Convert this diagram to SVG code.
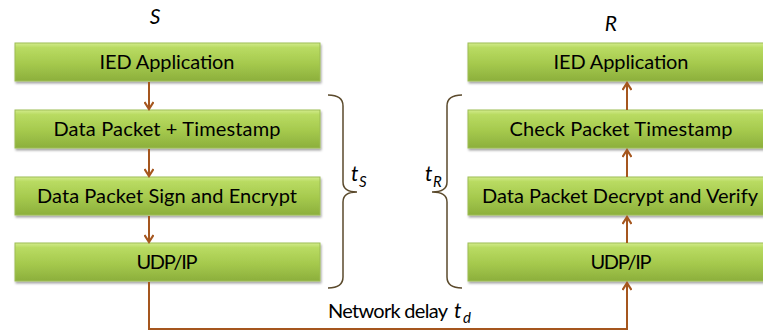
<svg xmlns="http://www.w3.org/2000/svg" width="763" height="333" viewBox="0 0 763 333">
<defs>
<linearGradient id="g" x1="0" y1="0" x2="0" y2="1">
<stop offset="0" stop-color="#d3eb8c"/>
<stop offset="0.12" stop-color="#b9db62"/>
<stop offset="0.55" stop-color="#a5c94d"/>
<stop offset="1" stop-color="#8caf3c"/>
</linearGradient>
<filter id="sh" x="-5%" y="-20%" width="110%" height="160%">
<feDropShadow dx="1" dy="2" stdDeviation="1.3" flood-color="#000" flood-opacity="0.35"/>
</filter>
<marker id="ar" markerWidth="10" markerHeight="10" refX="8" refY="5" orient="auto" markerUnits="userSpaceOnUse">
<path d="M1,0.5 L8,5 L1,9.5" fill="none" stroke="#a5561e" stroke-width="2.2"/>
</marker>
</defs>
<style>
.box{fill:url(#g);stroke:#9dbd55;stroke-width:1;filter:url(#sh)}
.lbl{font-family:Lato,"Open Sans",sans-serif;font-size:20px;fill:#000;text-anchor:middle}
.it{font-family:Lato,"Open Sans",sans-serif;font-style:italic;fill:#000}
.con{fill:none;stroke:#a5561e;stroke-width:2;marker-end:url(#ar)}
.brace{fill:none;stroke:#5b4a2c;stroke-width:1.5}
</style>
<rect width="763" height="333" fill="#fff"/>
<text class="it" x="155" y="24" font-size="21" text-anchor="middle">S</text>
<text class="it" x="611" y="31" font-size="21" text-anchor="middle">R</text>
<g id="s1"><rect class="box" x="15" y="43" width="305" height="38"/><text class="lbl" x="167" y="69" textLength="135">IED Application</text></g>
<g id="s2"><rect class="box" x="15" y="110" width="305" height="38"/><text class="lbl" x="167" y="136" textLength="227">Data Packet + Timestamp</text></g>
<g id="s3"><rect class="box" x="15" y="177" width="305" height="38"/><text class="lbl" x="167" y="203" textLength="260">Data Packet Sign and Encrypt</text></g>
<g id="s4"><rect class="box" x="15" y="243" width="305" height="38"/><text class="lbl" x="167" y="269" textLength="61">UDP/IP</text></g>
<g id="r1"><rect class="box" x="468" y="43" width="306" height="38"/><text class="lbl" x="621" y="69" textLength="135">IED Application</text></g>
<g id="r2"><rect class="box" x="468" y="110" width="306" height="38"/><text class="lbl" x="621" y="136" textLength="223">Check Packet Timestamp</text></g>
<g id="r3"><rect class="box" x="468" y="177" width="306" height="38"/><text class="lbl" x="620" y="203" textLength="276">Data Packet Decrypt and Verify</text></g>
<g id="r4"><rect class="box" x="468" y="243" width="306" height="38"/><text class="lbl" x="621" y="269" textLength="61">UDP/IP</text></g>
<g id="connectors">
<path class="con" d="M149,82 V109"/>
<path class="con" d="M149,149 V176"/>
<path class="con" d="M149,216 V242"/>
<path class="con" d="M149,282 V329 H627 V283"/>
<path class="con" d="M627,243 V217"/>
<path class="con" d="M627,177 V150"/>
<path class="con" d="M627,110 V83"/>
</g>
<g id="braces">
<path class="brace" d="M328,95 Q343,95 343,106 V182 Q343,192 357,192 Q343,192 343,202 V277 Q343,288 328,288"/>
<path class="brace" d="M462,95 Q447,95 447,106 V182 Q447,192 432,192 Q447,192 447,202 V277 Q447,288 462,288"/>
<text class="it" x="351" y="181" font-size="21">t</text><text class="it" x="359" y="187" font-size="15">S</text>
<text class="it" x="425" y="181" font-size="21">t</text><text class="it" x="433" y="187" font-size="15">R</text>
</g>
<text x="328" y="318" font-family="Lato,'Open Sans',sans-serif" font-size="20" fill="#000" textLength="120">Network delay</text>
<text class="it" x="454" y="318" font-size="21">t</text><text class="it" x="463" y="323" font-size="15">d</text>
</svg>
